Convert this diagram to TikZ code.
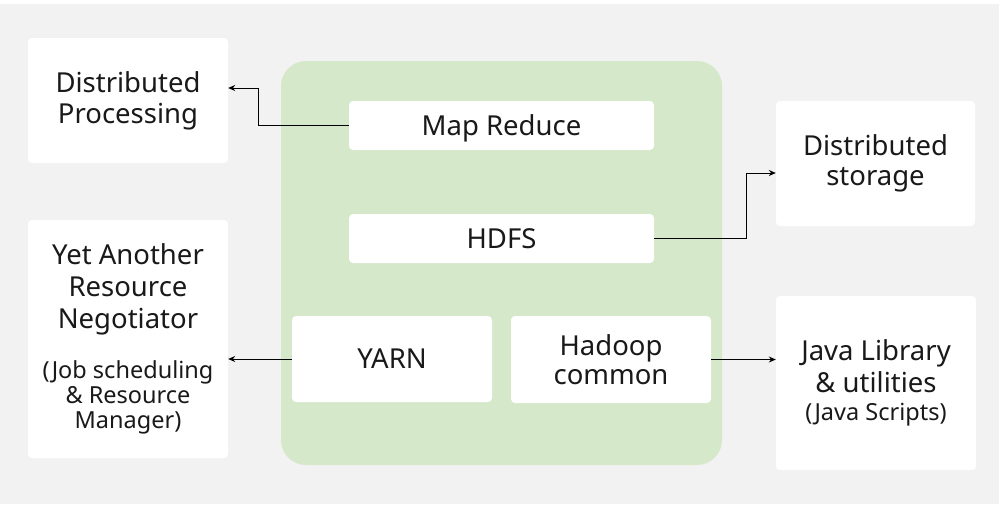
\documentclass[tikz,border=0pt]{standalone}
\usepackage{fontspec}
\setmainfont{Noto Sans}
\usetikzlibrary{arrows.meta,calc}
\definecolor{bggray}{HTML}{F2F2F2}
\definecolor{hgreen}{HTML}{D5E8CA}
\newcommand{\mainf}{\fontsize{27.5}{32}\selectfont}
\newcommand{\smallf}{\fontsize{23.5}{25}\selectfont}
\tikzset{
  wbox/.style={fill=white, rounded corners=4pt, inner sep=0pt, align=center, font=\mainf, text=black!90},
  gbox/.style={fill=hgreen, rounded corners=25pt, inner sep=0pt},
  arr/.style={draw=black, line width=1pt, -{Stealth[length=7pt,width=6pt]}},
}
\begin{document}
\begin{tikzpicture}[x=1pt,y=-1pt]
\useasboundingbox (0,0) rectangle (1001,504);
\fill[white] (0,0) rectangle (1001,504);
\fill[bggray] (0,4) rectangle (999,504);
\node[gbox, minimum width=441pt, minimum height=404pt] (hadoop) at (501.5,263) {};
\node[wbox, minimum width=305pt, minimum height=49pt, text depth=0pt] (mr) at (501.5,125.5) {Map Reduce};
\node[wbox, minimum width=305pt, minimum height=49pt] (hdfs) at (501.5,238.5) {HDFS};
\node[wbox, minimum width=200pt, minimum height=86pt] (yarn) at (392,359) {YARN};
\node[wbox, minimum width=200pt, minimum height=87pt] (hc) at (611,359.5) {Hadoop\\[-3pt]common};
\node[wbox, minimum width=200pt, minimum height=125pt] (dp) at (128,100.5) {Distributed\\[-1pt]Processing};
\node[wbox, minimum width=199pt, minimum height=125pt] (ds) at (875.5,163.5) {Distributed\\[-2pt]storage};
\node[wbox, minimum width=200pt, minimum height=238pt] (yb) at (128,339) {Yet Another\\Resource\\Negotiator\\[18pt]{\smallf (Job scheduling}\\[-7pt]{\smallf \& Resource}\\[-7pt]{\smallf Manager)}};
\node[wbox, minimum width=200pt, minimum height=174pt] (jl) at (876,383) {Java Library\\\& utilities\\[-4pt]{\smallf (Java Scripts)}};
\draw[arr] (mr.west) -- (258,125.5) |- ([yshift=12.5pt]dp.east);
\draw[arr] (hdfs.east) -- (746,238.5) |- ([yshift=-9.5pt]ds.west);
\draw[arr] (yarn.west) -- (yarn.west -| yb.east);
\draw[arr] (hc.east) -- (hc.east -| jl.west);
\end{tikzpicture}
\end{document}
